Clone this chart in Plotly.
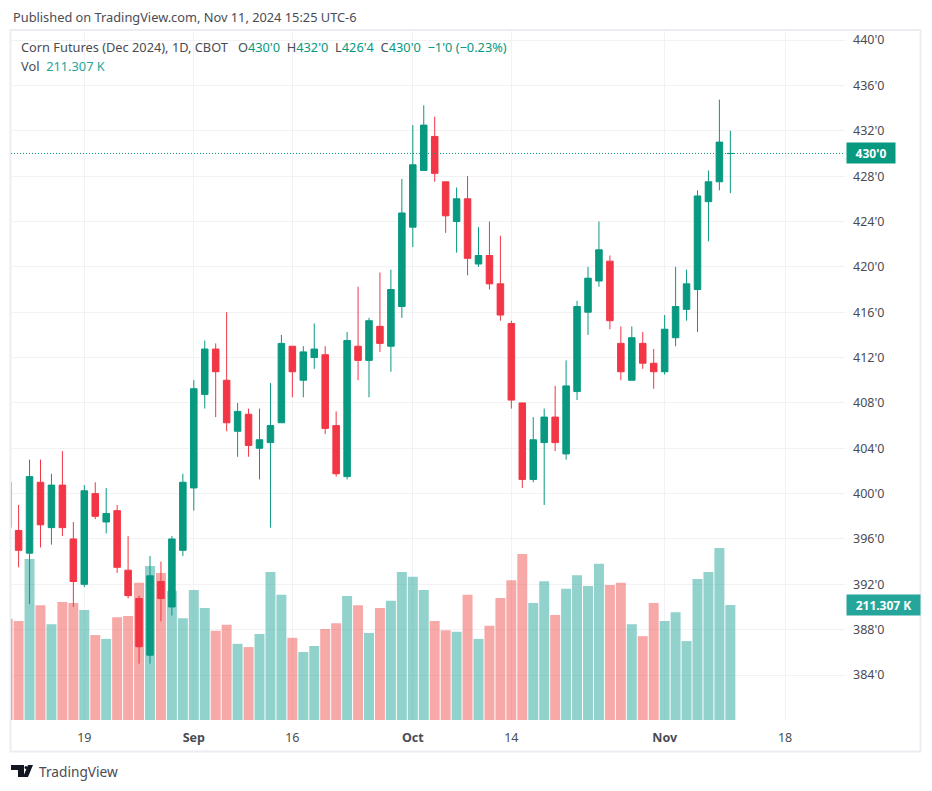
import plotly.graph_objects as go

UP, DOWN = "#089981", "#f23645"
VOL_UP, VOL_DOWN = "rgba(38,166,154,0.5)", "rgba(239,83,80,0.5)"
GRID, FRAME, TEXT = "#f2f2f5", "#ecedf2", "#4a4c54"
FONT = "Noto Sans"

# trading-day index, 0 = Aug 19 2024
bar_index = list(range(-7, 60))
opens = [401, 396.75, 394.75, 401, 397, 400.75, 396, 392, 400, 397.5, 398.5, 393.25, 390.75, 385.75, 392.25, 390, 395,
         400.5, 408.75, 412.75, 410, 405.5, 407, 404, 404.5, 406.25, 413, 410, 412, 412.25, 406, 401.5, 413, 411.75,
         414.75, 413, 416.5, 423.5, 428.5, 431.5, 427.5, 424, 426, 420.25, 421, 418.5, 415, 408, 401.25, 404.5, 406.75,
         403.5, 409, 416, 418.75, 420.5, 413.25, 410, 413.25, 411.5, 410.75, 413.75, 416.25, 418, 425.75, 427.5, 429.99]
highs = [401.25, 399, 403, 403, 401.75, 403.75, 397.5, 400.75, 401, 400.5, 399, 396.25, 391, 394.5, 394, 396.25, 401.75,
         410, 413.5, 413.25, 416, 408, 407.5, 407.5, 409.75, 414, 413, 413, 415, 413, 407.25, 414.25, 418.25, 415.5,
         419.5, 419.75, 427.75, 432.5, 434.25, 433.25, 427.5, 427, 428, 423.5, 424, 422.75, 415.25, 408, 406.75, 407.5,
         409.5, 411.75, 417, 420, 424, 421, 414.75, 414.75, 414.25, 412.75, 415.75, 420, 419.75, 426.75, 428.5, 434.75, 432]
lows = [396.75, 393.5, 390.25, 395.25, 395.5, 396.25, 390, 391.75, 397.75, 396.5, 393, 390.75, 385, 385, 388.75, 389.25,
        394.5, 398.5, 407.5, 406.75, 405.5, 403.25, 403.25, 401.25, 397, 406.25, 408.5, 408.5, 411, 405.25, 401.5, 401.25,
        410, 408.5, 412.5, 410.75, 415.5, 421.75, 428.5, 427.5, 423, 421.25, 419.25, 420, 418, 415.25, 407.5, 400.5, 401,
        399, 403.75, 403, 408.25, 414, 418.25, 414.5, 410, 410, 411, 409.25, 410.5, 413, 415.25, 414.25, 422.25, 426.75, 426.5]
closes = [397, 395, 401.5, 397.25, 400.75, 397, 392.25, 400.25, 398, 398.25, 393.5, 391, 386.5, 392.75, 390.75, 396, 401,
          409.25, 412.75, 410.75, 406.25, 407.25, 404.25, 404.75, 406, 413.25, 410.75, 412.5, 412.75, 405.75, 401.75, 413.5,
          411.75, 415.25, 413.25, 418, 424.75, 429, 432.5, 428.25, 424.5, 426, 420.75, 421, 418.5, 415.75, 408.25, 401.25,
          404.75, 406.75, 404.5, 409.5, 416.5, 419, 421.5, 415.25, 410.75, 413.75, 411.5, 410.75, 414.5, 416.5, 418.5, 426.25,
          427.5, 431, 430]
volumes_k = [186, 182, 296, 211, 176, 217, 215, 202, 156, 149, 189, 191, 252, 283, 270, 237, 187, 239, 206, 164, 175, 140,
             134, 158, 272, 230, 151, 125, 136, 167, 178, 228, 211, 160, 206, 219, 272, 263, 239, 182, 165, 162, 230, 149,
             173, 224, 257, 305, 215, 255, 193, 241, 266, 246, 287, 248, 252, 176, 154, 215, 182, 198, 145, 259, 272, 316, 211.307]
price_ticks = list(range(384, 444, 4))
price_labels = [f"{p}'0" for p in price_ticks]
date_ticks = [0, 10, 19, 30, 39, 53, 64]
date_labels = ["19", "<b>Sep</b>", "16", "<b>Oct</b>", "14", "<b>Nov</b>", "18"]
last_price, last_volume = 430, 211.307

# page geometry (px)
W, H = 932, 791
L, R, T, B = 11, 845, 31, 720

def px(x):
    return (x - L) / (R - L)

def py(y):
    return (B - y) / (B - T)

vol_colors = [VOL_UP if c >= o else VOL_DOWN for o, c in zip(opens, closes)]

fig = go.Figure()
fig.add_bar(x=bar_index, y=volumes_k, marker=dict(color=vol_colors, line_width=0), yaxis="y", hoverinfo="skip")
fig.add_candlestick(
    x=bar_index, open=opens, high=highs, low=lows, close=closes, yaxis="y2", whiskerwidth=0,
    increasing=dict(line=dict(color=UP, width=1), fillcolor=UP),
    decreasing=dict(line=dict(color=DOWN, width=1), fillcolor=DOWN),
)

def logo_path(points):
    return "M" + " L".join(f"{px(a):.5f},{py(b):.5f}" for a, b in points) + " Z"

shapes = [
    dict(type="rect", xref="paper", yref="paper", x0=px(10.5), x1=px(920.5), y0=py(751.5), y1=py(30),
         line=dict(color=FRAME, width=2), layer="below"),
    dict(type="line", xref="paper", yref="y2", x0=0, x1=1, y0=last_price, y1=last_price,
         line=dict(color=UP, width=1, dash="1px 2px"), layer="above"),
    dict(type="path", xref="paper", yref="paper", fillcolor="#131722", line_width=0,
         path=logo_path([(11, 765), (24, 765), (24, 777), (18, 777), (18, 770), (11, 770)])),
    dict(type="circle", xref="paper", yref="paper", fillcolor="#131722", line_width=0,
         x0=px(24.5), x1=px(27.5), y0=py(769), y1=py(766)),
    dict(type="path", xref="paper", yref="paper", fillcolor="#131722", line_width=0,
         path=logo_path([(28, 765), (33, 765), (28, 777), (23, 777)])),
]

def note(text, x, y, size=12.8, color=TEXT):
    return dict(text=text, xref="paper", yref="paper", x=px(x), y=py(y), xanchor="left", yanchor="middle",
                showarrow=False, font=dict(family=FONT, size=size, color=color), align="left")

val = lambda s: f'<span style="color:{UP}">{s}</span>'
annotations = [
    note("Published on TradingView.com, Nov 11, 2024 15:25 UTC-6", 11, 17),
    note("Corn Futures (Dec 2024), 1D, CBOT   O" + val("430'0") + "  H" + val("432'0") + "  L" + val("426'4")
         + "  C" + val("430'0") + "  " + val("−1'0 (−0.23%)"), 19, 47),
    note(f'Vol  <span style="color:#26a69a">211.307 K</span>', 19, 66),
    note("TradingView", 37, 771, size=13.7),
    dict(text="<b>430'0</b>", xref="paper", yref="y2", x=px(846), y=last_price, xanchor="left", yanchor="middle",
         showarrow=False, bgcolor=UP, width=46, height=18, borderpad=1, align="center",
         font=dict(family=FONT, size=12, color="white")),
    dict(text="<b>211.307 K</b>", xref="paper", yref="y", x=px(846), y=last_volume, xanchor="left", yanchor="middle",
         showarrow=False, bgcolor="#26a69a", width=71, height=18, borderpad=1, align="center",
         font=dict(family=FONT, size=12, color="white")),
]

bar_px = 10.95
fig.update_layout(
    width=W, height=H, margin=dict(l=L, r=W - R, t=T, b=H - B, pad=0),
    paper_bgcolor="white", plot_bgcolor="white", showlegend=False, bargap=0.09,
    boxgap=0.15, boxgroupgap=0.3,
    font=dict(family=FONT, size=12, color=TEXT),
    shapes=shapes, annotations=annotations,
    xaxis=dict(range=[(L - 84.3) / bar_px, (R - 84.3) / bar_px], tickmode="array", tickvals=date_ticks,
               ticktext=date_labels, showgrid=True, gridcolor=GRID, gridwidth=1, zeroline=False, showline=False,
               ticks="", rangeslider=dict(visible=False), tickfont=dict(size=12.5, color=TEXT), ticklabelstandoff=8),
    yaxis=dict(range=[0, (B - T) * 1.8375], visible=False, fixedrange=True),
    yaxis2=dict(overlaying="y", side="right", range=[380.035, 440.80], tickmode="array", tickvals=price_ticks,
                ticktext=price_labels, showgrid=True, gridcolor=GRID, gridwidth=1, zeroline=False, showline=False,
                ticks="", tickfont=dict(size=12.5, color=TEXT), ticklabelstandoff=7),
)

fig.write_html("out.html", config=dict(displayModeBar=False), post_script="document.body.style.margin='0';")
